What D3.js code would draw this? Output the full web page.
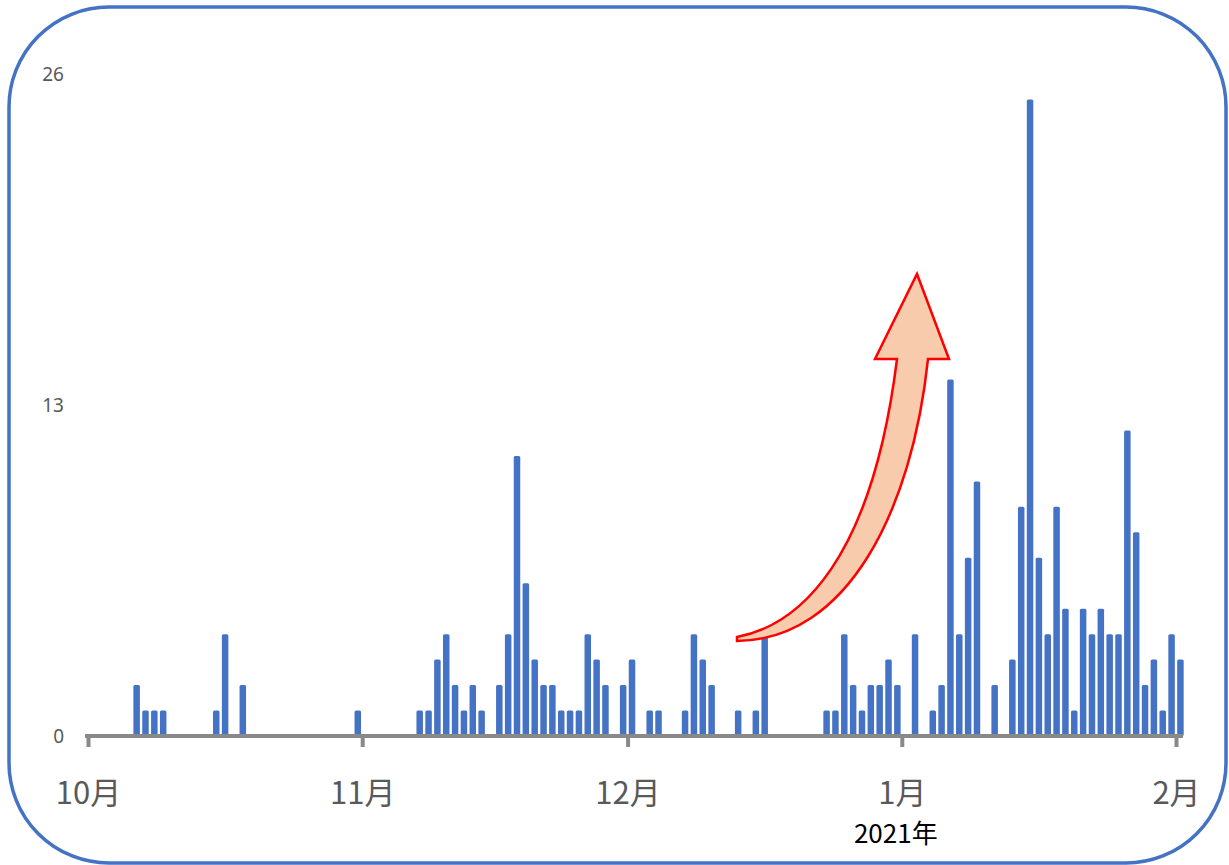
<!DOCTYPE html>
<html>
<head>
<meta charset="utf-8">
<script src="https://cdn.jsdelivr.net/npm/d3@7/dist/d3.min.js"></script>
<style>
  html, body { margin: 0; padding: 0; background: #fff; }
  svg { display: block; }
  text { font-family: "Noto Sans CJK JP", "Noto Sans", sans-serif; }
</style>
</head>
<body>
<svg id="chart" width="1229" height="865"></svg>
<script>
// daily counts, Oct 2020 - Feb 2021 (days without a bar are zero)
const dates = [
  "2020-10-06", "2020-10-07", "2020-10-08", "2020-10-09", "2020-10-15", "2020-10-16", "2020-10-18", "2020-10-31",
  "2020-11-07", "2020-11-08", "2020-11-09", "2020-11-10", "2020-11-11", "2020-11-12", "2020-11-13", "2020-11-14",
  "2020-11-16", "2020-11-17", "2020-11-18", "2020-11-19", "2020-11-20", "2020-11-21", "2020-11-22", "2020-11-23",
  "2020-11-24", "2020-11-25", "2020-11-26", "2020-11-27", "2020-11-28", "2020-11-30",
  "2020-12-01", "2020-12-03", "2020-12-04", "2020-12-07", "2020-12-08", "2020-12-09", "2020-12-10", "2020-12-13",
  "2020-12-15", "2020-12-16", "2020-12-23", "2020-12-24", "2020-12-25", "2020-12-26", "2020-12-27", "2020-12-28",
  "2020-12-29", "2020-12-30", "2020-12-31",
  "2021-01-02", "2021-01-04", "2021-01-05", "2021-01-06", "2021-01-07", "2021-01-08", "2021-01-09", "2021-01-11",
  "2021-01-13", "2021-01-14", "2021-01-15", "2021-01-16", "2021-01-17", "2021-01-18", "2021-01-19", "2021-01-20",
  "2021-01-21", "2021-01-22", "2021-01-23", "2021-01-24", "2021-01-25", "2021-01-26", "2021-01-27", "2021-01-28",
  "2021-01-29", "2021-01-30", "2021-01-31", "2021-02-01",
];
const counts = [
  2, 1, 1, 1, 1, 4, 2, 1,
  1, 1, 3, 4, 2, 1, 2, 1,
  2, 4, 11, 6, 3, 2, 2, 1,
  1, 1, 4, 3, 2, 2,
  3, 1, 1, 1, 4, 3, 2, 1,
  1, 4, 1, 1, 4, 2, 1, 2,
  2, 3, 2,
  4, 1, 2, 14, 4, 7, 10, 2,
  3, 9, 25, 7, 4, 9, 5, 1,
  5, 4, 5, 4, 4, 12, 8, 2,
  3, 1, 4, 3,
];
const monthTicks = ["2020-10-01", "2020-11-01", "2020-12-01", "2021-01-01", "2021-02-01"];
const yTicks = [0, 13, 26];
const yearLabel = "2021年";

const parse = (s) => {
  const [y, m, d] = s.split("-").map(Number);
  return new Date(y, m - 1, d);
};

const svg = d3.select("#chart");

svg.append("rect")
  .attr("x", 9).attr("y", 7)
  .attr("width", 1217).attr("height", 856)
  .attr("rx", 100).attr("ry", 100)
  .attr("fill", "#fff")
  .attr("stroke", "#4472C4")
  .attr("stroke-width", 3.5);

const x = d3.scaleTime()
  .domain([parse(monthTicks[0]), parse(monthTicks[monthTicks.length - 1])])
  .range([88, 1176]);
const y = d3.scaleLinear().domain([0, 26]).range([736, 74]);

const dayW = x(new Date(2020, 9, 2)) - x(new Date(2020, 9, 1));
const barW = 6.5;

const bars = dates.map((d, i) => ({ date: parse(d), value: counts[i] }));

svg.append("g")
  .selectAll("rect")
  .data(bars)
  .join("rect")
  .attr("x", (d) => x(d.date) + dayW / 2 - barW / 2)
  .attr("y", (d) => y(d.value))
  .attr("width", barW)
  .attr("height", (d) => y(0) - y(d.value))
  .attr("rx", 1.5)
  .attr("fill", "#4472C4");

// y axis: labels only
const yAxis = svg.append("g")
  .attr("transform", "translate(64,0)")
  .call(d3.axisLeft(y).tickValues(yTicks).tickSize(0).tickPadding(0));
yAxis.select(".domain").remove();
yAxis.selectAll("text")
  .attr("fill", "#595959")
  .attr("font-size", 19)
  .style("font-family", "'Noto Sans', sans-serif");

// x axis
const xAxis = svg.append("g")
  .attr("transform", `translate(0,${y(0)})`)
  .call(
    d3.axisBottom(x)
      .tickValues(monthTicks.map(parse))
      .tickSize(11)
      .tickSizeOuter(0)
      .tickFormat((d) => d.getMonth() + 1 + "月")
  );
xAxis.select(".domain")
  .attr("stroke", "#898989")
  .attr("stroke-width", 4)
  .attr("d", `M${x.range()[0] - 3},0H${x.range()[1] + 7}`);
xAxis.selectAll(".tick line")
  .attr("stroke", "#898989")
  .attr("stroke-width", 4);
xAxis.selectAll(".tick text")
  .attr("y", 68)
  .attr("dy", 0)
  .attr("fill", "#595959")
  .attr("font-size", 31);

svg.append("text")
  .attr("x", x(parse(monthTicks[3])) - 6)
  .attr("y", 843)
  .attr("text-anchor", "middle")
  .attr("font-size", 26)
  .attr("fill", "#000")
  .text(yearLabel);

// curved "rising" arrow annotation
const arrowPath = [
  "M737,637",
  "C800,625 872,560 897,359",
  "L875,359L917,274L949,359L928,359",
  "C912,510 848,640 737,641",
  "Z",
].join("");

svg.append("path")
  .attr("d", arrowPath)
  .attr("fill", "#F8CBAD")
  .attr("stroke", "#FF0000")
  .attr("stroke-width", 2.5)
  .attr("stroke-linejoin", "miter");
</script>
</body>
</html>
